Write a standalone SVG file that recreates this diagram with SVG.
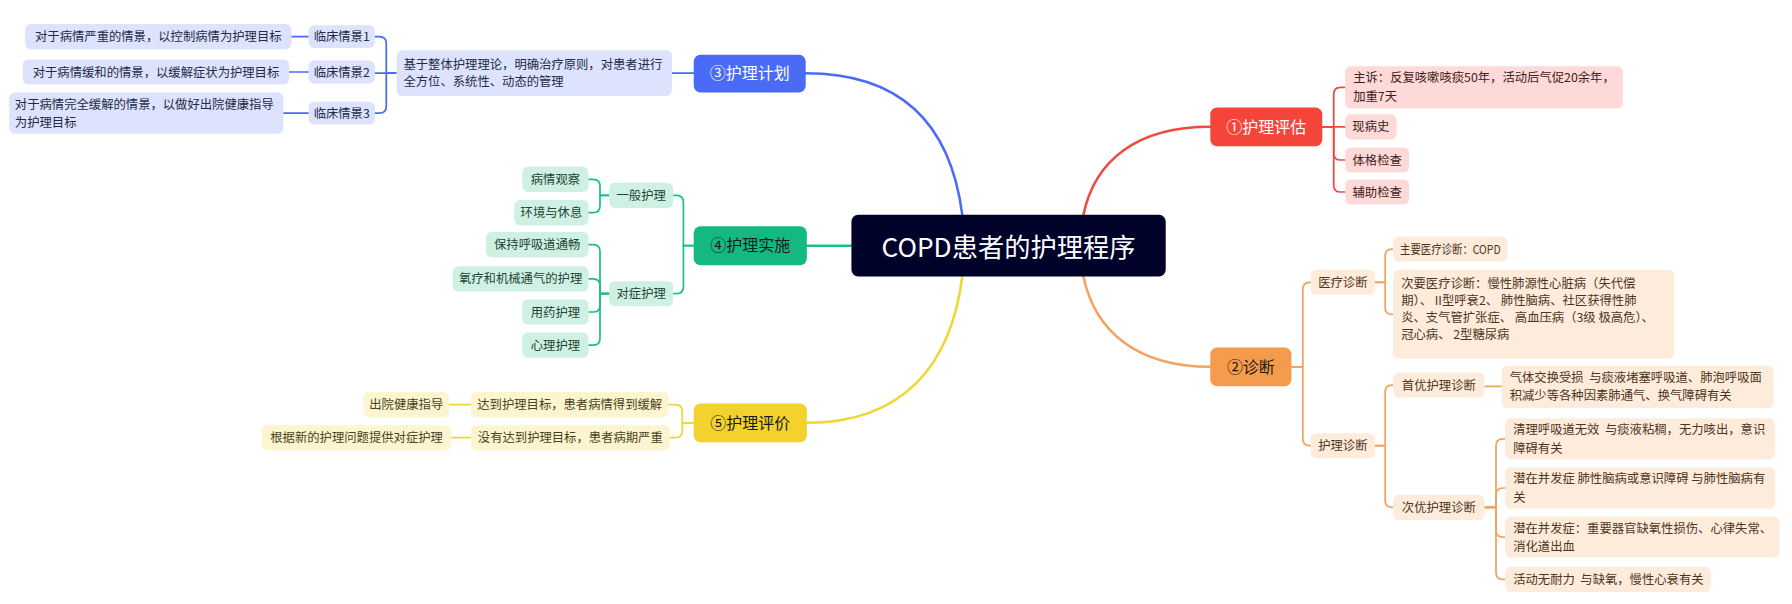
<svg xmlns="http://www.w3.org/2000/svg" width="1792" height="604" viewBox="0 0 1792 604">
<style>
text{font-family:"Noto Sans CJK SC","Liberation Sans",sans-serif;white-space:pre}
.s{font-size:10.8px}
.m{font-size:14px}
.c{text-anchor:middle}
.ln{fill:none;stroke-linecap:round;stroke-linejoin:round}
.main{stroke-width:2.2}
.sub{stroke-width:1.5}
.red{stroke:#F0493F}.ora{stroke:#F3A35E}.blu{stroke:#4A6BF5}.grn{stroke:#1CBF87}.yel{stroke:#EED633}
.pr{fill:#FDDAD8}.po{fill:#FDEBDC}.pb{fill:#DDE3FC}.pg{fill:#CFF1E3}.py{fill:#FDF4D0}
.tr{fill:#3d2020}.to{fill:#4f3520}.tb{fill:#222a48}.tg{fill:#1e4436}.ty{fill:#4a4220}
</style>
<rect width="1792" height="604" fill="#ffffff"/>
<g id="diagram" transform="scale(1.142857)">
<g id="connectors" class="ln">
<path class="main red" d="M948,188 C958,140 995,111 1059,111"/>
<path class="main ora" d="M948,242 C958,290 995,321 1059,321"/>
<path class="main blu" d="M705,64 C790,64 832,110 842,188"/>
<path class="main yel" d="M706,370 C790,370 832,320 842,242"/>
<path class="main grn" d="M706,215 H745"/>
<g class="sub red">
<path d="M1157,111 H1167 V82.5 Q1167,76.5 1173,76.5 H1177"/>
<path d="M1157,111 H1177"/>
<path d="M1157,111 H1167 V134 Q1167,140 1173,140 H1177"/>
<path d="M1157,111 H1167 V162 Q1167,168 1173,168 H1177"/>
</g>
<g class="sub ora">
<path d="M1130,321 H1140 V253 Q1140,247 1146,247 H1147"/>
<path d="M1130,321 H1140 V384 Q1140,390 1146,390 H1147"/>
<path d="M1203,247 H1212 V224 Q1212,218 1218,218 H1219"/>
<path d="M1203,247 H1212 V269 Q1212,275 1218,275 H1219"/>
<path d="M1203,390 H1212 V343 Q1212,337 1218,337 H1219"/>
<path d="M1203,390 H1212 V438 Q1212,444 1218,444 H1219"/>
<path d="M1299,338 H1314"/>
<path d="M1299,444 H1309 V390 Q1309,384 1315,384 H1317"/>
<path d="M1299,444 H1309 V433 Q1309,427 1315,427 H1317"/>
<path d="M1299,444 H1309 V464 Q1309,470 1315,470 H1317"/>
<path d="M1299,444 H1309 V501 Q1309,507 1315,507 H1317"/>
</g>
<g class="sub blu">
<path d="M607,64 H588"/>
<path d="M347,64 H338 V38 Q338,32 332,32 H328"/>
<path d="M347,64 H328"/>
<path d="M347,64 H338 V93 Q338,99 332,99 H328"/>
<path d="M255,32 H270"/>
<path d="M253,63 H270"/>
<path d="M248,99 H270"/>
</g>
<g class="sub grn">
<path d="M607,215 H598 V177 Q598,171 592,171 H589"/>
<path d="M607,215 H598 V251 Q598,257 592,257 H589"/>
<path d="M533,171 H525 V163 Q525,157 519,157 H515"/>
<path d="M533,171 H525 V180 Q525,186 519,186 H515"/>
<path d="M533,257 H525 V220 Q525,214 519,214 H515"/>
<path d="M533,257 H525 V250 Q525,244 519,244 H515"/>
<path d="M533,257 H525 V267 Q525,273 519,273 H515"/>
<path d="M533,257 H525 V296 Q525,302 519,302 H515"/>
</g>
<g class="sub yel">
<path d="M607,370 H597 V360 Q597,354 591,354 H585"/>
<path d="M607,370 H597 V377 Q597,383 591,383 H586"/>
<path d="M393,354 H412"/>
<path d="M395,383 H412"/>
</g>
</g>
<g id="root">
<rect x="745" y="188" width="275" height="54" rx="6" fill="#000229"/>
<text x="882.5" y="225" class="c" font-size="23" fill="#ffffff">COPD患者的护理程序</text>
</g>
<g id="n1">
<rect x="1059" y="94" width="98" height="34" rx="6" fill="#F5443A"/>
<text x="1108" y="116" class="m c" fill="#ffffff">①护理评估</text>
</g>
<g id="n1a"><rect x="1177" y="58" width="243" height="37" rx="5" class="pr"/><text x="1184" y="72" class="s tr">主诉：反复咳嗽咳痰50年，活动后气促20余年，</text><text x="1184" y="88" class="s tr">加重7天</text></g>
<g id="n1b"><rect x="1177" y="100" width="45" height="22" rx="5" class="pr"/><text x="1199.5" y="115" class="s c tr">现病史</text></g>
<g id="n1c"><rect x="1177" y="129" width="56" height="22" rx="5" class="pr"/><text x="1205" y="144" class="s c tr">体格检查</text></g>
<g id="n1d"><rect x="1177" y="157" width="56" height="22" rx="5" class="pr"/><text x="1205" y="172" class="s c tr">辅助检查</text></g>
<g id="n2">
<rect x="1059" y="304" width="71" height="34" rx="6" fill="#F59B4C"/>
<text x="1094.5" y="326" class="m c" fill="#1a1a1a">②诊断</text>
</g>
<g id="n2a"><rect x="1147" y="236" width="56" height="22" rx="5" class="po"/><text x="1175" y="251" class="s c to">医疗诊断</text></g>
<g id="n2b"><rect x="1147" y="379" width="56" height="22" rx="5" class="po"/><text x="1175" y="394" class="s c to">护理诊断</text></g>
<g id="n2a1"><rect x="1219" y="207" width="100" height="22" rx="5" class="po"/><text x="1225" y="222" class="s to" textLength="88" lengthAdjust="spacingAndGlyphs">主要医疗诊断：COPD</text></g>
<g id="n2a2"><rect x="1219" y="236" width="246" height="78" rx="5" class="po"/>
<text x="1226" y="252" class="s to">次要医疗诊断：慢性肺源性心脏病（失代偿</text>
<text x="1226" y="267" class="s to">期）、 II型呼衰2、 肺性脑病、社区获得性肺</text>
<text x="1226" y="282" class="s to">炎、支气管扩张症、 高血压病（3级 极高危）、</text>
<text x="1226" y="297" class="s to">冠心病、 2型糖尿病</text></g>
<g id="n2b1"><rect x="1219" y="326" width="80" height="22" rx="5" class="po"/><text x="1259" y="341" class="s c to">首优护理诊断</text></g>
<g id="n2b2"><rect x="1219" y="433" width="80" height="22" rx="5" class="po"/><text x="1259" y="448" class="s c to">次优护理诊断</text></g>
<g id="n2b1a"><rect x="1314" y="320" width="238" height="37" rx="5" class="po"/><text x="1321" y="334" class="s to">气体交换受损  与痰液堵塞呼吸道、肺泡呼吸面</text><text x="1321" y="350" class="s to">积减少等各种因素肺通气、换气障碍有关</text></g>
<g id="n2b2a"><rect x="1317" y="366" width="236" height="36" rx="5" class="po"/><text x="1324" y="380" class="s to">清理呼吸道无效  与痰液粘稠，无力咳出，意识</text><text x="1324" y="396" class="s to">障碍有关</text></g>
<g id="n2b2b"><rect x="1317" y="409" width="236" height="36" rx="5" class="po"/><text x="1324" y="423" class="s to">潜在并发症 肺性脑病或意识障碍 与肺性脑病有</text><text x="1324" y="439" class="s to">关</text></g>
<g id="n2b2c"><rect x="1317" y="452" width="240" height="36" rx="5" class="po"/><text x="1324" y="466" class="s to">潜在并发症：重要器官缺氧性损伤、心律失常、</text><text x="1324" y="482" class="s to">消化道出血</text></g>
<g id="n2b2d"><rect x="1317" y="496" width="180" height="22" rx="5" class="po"/><text x="1324" y="511" class="s to">活动无耐力  与缺氧，慢性心衰有关</text></g>
<g id="n3">
<rect x="607" y="48" width="98" height="33" rx="6" fill="#4A6BF5"/>
<text x="656" y="69.5" class="m c" fill="#ffffff">③护理计划</text>
</g>
<g id="n3a"><rect x="347" y="44" width="241" height="40" rx="5" class="pb"/><text x="353" y="60" class="s tb">基于整体护理理论，明确治疗原则，对患者进行</text><text x="353" y="75" class="s tb">全方位、系统性、动态的管理</text></g>
<g id="n3b1"><rect x="270" y="22" width="58" height="20" rx="5" class="pb"/><text x="299" y="36" class="s c tb">临床情景1</text></g>
<g id="n3b2"><rect x="270" y="53" width="58" height="20" rx="5" class="pb"/><text x="299" y="67" class="s c tb">临床情景2</text></g>
<g id="n3b3"><rect x="270" y="89" width="58" height="20" rx="5" class="pb"/><text x="299" y="103" class="s c tb">临床情景3</text></g>
<g id="n3c1"><rect x="22" y="21" width="233" height="22" rx="5" class="pb"/><text x="138.5" y="36" class="s c tb">对于病情严重的情景，以控制病情为护理目标</text></g>
<g id="n3c2"><rect x="20" y="52" width="233" height="22" rx="5" class="pb"/><text x="136.5" y="67" class="s c tb">对于病情缓和的情景，以缓解症状为护理目标</text></g>
<g id="n3c3"><rect x="8" y="81" width="240" height="36" rx="5" class="pb"/><text x="13" y="95" class="s tb">对于病情完全缓解的情景，以做好出院健康指导</text><text x="13" y="111" class="s tb">为护理目标</text></g>
<g id="n4">
<rect x="607" y="198" width="99" height="34" rx="6" fill="#14B981"/>
<text x="656.5" y="220" class="m c" fill="#1a1a1a">④护理实施</text>
</g>
<g id="n4a"><rect x="533" y="160" width="56" height="22" rx="5" class="pg"/><text x="561" y="175" class="s c tg">一般护理</text></g>
<g id="n4b"><rect x="533" y="246" width="56" height="22" rx="5" class="pg"/><text x="561" y="261" class="s c tg">对症护理</text></g>
<g id="n4a1"><rect x="457" y="146" width="58" height="22" rx="5" class="pg"/><text x="486" y="161" class="s c tg">病情观察</text></g>
<g id="n4a2"><rect x="450" y="175" width="65" height="22" rx="5" class="pg"/><text x="482.5" y="190" class="s c tg">环境与休息</text></g>
<g id="n4b1"><rect x="425" y="203" width="90" height="22" rx="5" class="pg"/><text x="470" y="218" class="s c tg">保持呼吸道通畅</text></g>
<g id="n4b2"><rect x="396" y="233" width="119" height="22" rx="5" class="pg"/><text x="455.5" y="248" class="s c tg">氧疗和机械通气的护理</text></g>
<g id="n4b3"><rect x="457" y="262" width="58" height="22" rx="5" class="pg"/><text x="486" y="277" class="s c tg">用药护理</text></g>
<g id="n4b4"><rect x="457" y="291" width="58" height="22" rx="5" class="pg"/><text x="486" y="306" class="s c tg">心理护理</text></g>
<g id="n5">
<rect x="607" y="353" width="99" height="34" rx="6" fill="#F4D22E"/>
<text x="656.5" y="375" class="m c" fill="#1a1a1a">⑤护理评价</text>
</g>
<g id="n5a"><rect x="412" y="343" width="173" height="22" rx="5" class="py"/><text x="498.5" y="358" class="s c ty">达到护理目标，患者病情得到缓解</text></g>
<g id="n5b"><rect x="412" y="372" width="174" height="22" rx="5" class="py"/><text x="499" y="387" class="s c ty">没有达到护理目标，患者病期严重</text></g>
<g id="n5a1"><rect x="318" y="343" width="75" height="22" rx="5" class="py"/><text x="355.5" y="358" class="s c ty">出院健康指导</text></g>
<g id="n5b1"><rect x="229" y="372" width="166" height="22" rx="5" class="py"/><text x="312" y="387" class="s c ty">根据新的护理问题提供对症护理</text></g>
</g>
</svg>
